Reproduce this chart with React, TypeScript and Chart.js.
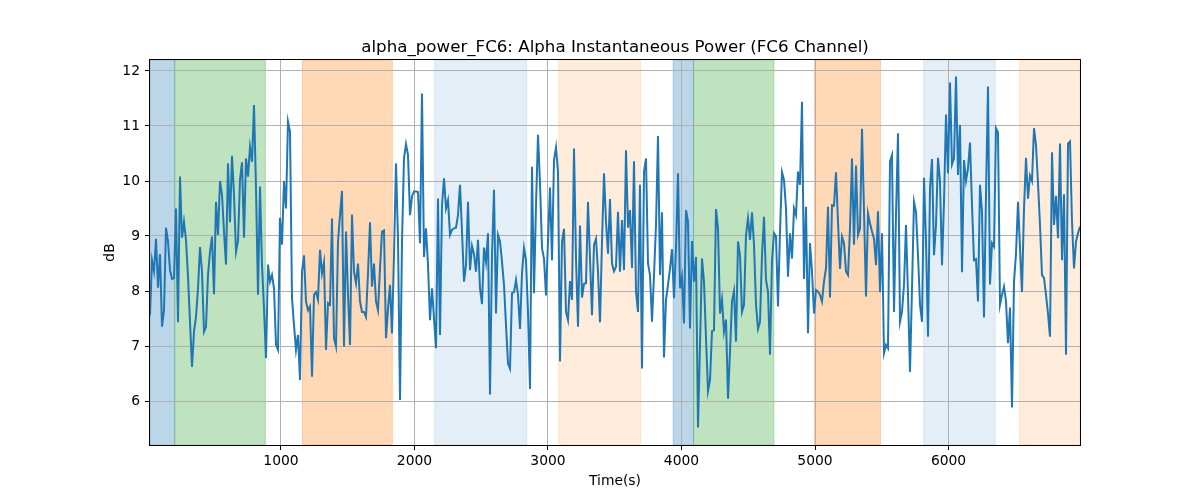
import React, { useEffect, useRef } from "react";
import { Chart, registerables } from "chart.js";

Chart.register(...registerables);

const TITLE = "alpha_power_FC6: Alpha Instantaneous Power (FC6 Channel)";
const X_LABEL = "Time(s)";
const Y_LABEL = "dB";

const TIME_START = 19;
const TIME_STEP = 14.98;

const values: number[] = [
  // 0 - ~1130 s
  7.56, 8.56, 8.36, 8.95, 8.06, 8.67, 7.35, 7.65, 9.15, 8.9,
  8.38, 8.22, 8.24, 9.5, 7.43, 10.08, 8.97, 9.26, 8.93, 8.26,
  7.44, 6.62, 7.26, 7.53, 8.05, 8.8, 8.35, 7.26, 7.35, 8.29,
  8.71, 8.99, 7.94, 9.62, 9.02, 10.0, 9.75, 9.08, 8.48, 10.32,
  9.25, 10.46, 9.75, 8.71, 8.9, 10.02, 10.34, 8.97, 10.41, 10.08,
  10.62, 10.35, 11.38, 9.87, 7.93, 9.9, 8.47, 7.68, 6.78, 8.48,
  8.17, 8.29, 8.05, 7.02, 6.93, 9.33, 8.84, 10.0, 9.5, 11.08,
  10.9, 7.87, 7.38, 6.93, 7.2, 6.38,
  // ~1140 - 2350 s
  8.35, 8.65, 7.81, 7.65, 7.72, 6.44, 7.93, 7.98, 7.84, 8.75,
  8.32, 8.52, 6.93, 7.78, 7.75, 9.32, 7.14, 6.99, 8.9, 9.38,
  9.82, 6.99, 9.08, 7.93, 7.02, 9.39, 8.35, 8.14, 8.5, 7.81,
  7.62, 7.62, 7.53, 8.32, 9.25, 8.08, 8.5, 7.81, 7.65, 8.41,
  9.08, 9.1, 7.14, 7.68, 8.11, 7.23, 8.65, 10.32, 8.96, 6.02,
  8.9, 10.41, 10.67, 10.47, 9.38, 9.72, 9.81, 9.81, 9.8, 8.87,
  11.59, 8.62, 9.14, 8.47, 7.47, 8.05, 7.5, 6.96, 9.68, 7.2,
  9.56, 10.05, 9.5, 9.65, 9.02, 9.11, 9.14, 9.15, 9.38, 9.93,
  9.08, 8.17,
  // ~2370 - 3460 s
  8.47, 9.62, 8.38, 8.82, 8.67, 8.35, 8.93, 8.05, 7.76, 8.79,
  8.53, 9.05, 6.12, 8.65, 9.84, 7.59, 9.02, 8.9, 8.53, 8.11,
  7.38, 6.68, 6.59, 7.96, 7.98, 8.2, 7.93, 7.31, 8.32, 8.78,
  8.56, 7.62, 6.22, 10.26, 7.96, 9.56, 10.84, 9.96, 8.78, 8.59,
  7.92, 8.9, 9.88, 8.56, 10.38, 10.61, 10.17, 6.72, 8.9, 9.13,
  7.62, 7.47, 8.18, 7.84, 10.59, 8.59, 7.35, 9.19, 7.88, 8.13,
  8.14, 9.62, 8.59, 7.56, 8.84, 8.95, 8.35, 7.43, 8.9, 10.14,
  9.26, 8.68, 9.67,
  // ~3470 - 4690 s
  8.5, 8.36, 8.44, 9.44, 8.35, 9.29, 8.38, 10.56, 9.15, 9.47,
  8.42, 10.36, 7.99, 7.62, 9.93, 6.59, 10.17, 10.41, 8.5, 8.29,
  7.44, 8.29, 9.2, 10.82, 8.29, 9.43, 6.79, 7.84, 8.11, 8.41,
  8.76, 7.87, 8.78, 10.14, 8.05, 8.26, 7.41, 9.47, 9.26, 7.32,
  8.91, 8.17, 8.62, 5.52, 7.02, 8.59, 8.17, 7.14, 6.18, 6.38,
  7.27, 7.29, 9.49, 9.14, 7.59, 7.85, 7.26, 7.48, 6.04, 6.9,
  7.81, 8.0, 7.08, 8.9, 8.65, 7.62, 7.75, 9.02, 9.32, 8.93,
  9.43, 8.84, 7.75, 7.31, 7.44, 8.65, 9.35, 8.2, 7.99, 6.84,
  8.55, 9.05,
  // ~4700 - 5840 s
  8.99, 7.72, 9.08, 10.16, 10.02, 9.5, 8.26, 9.05, 8.59, 9.5,
  9.38, 10.17, 9.93, 11.44, 8.22, 9.53, 7.23, 8.87, 8.35, 7.59,
  8.02, 7.99, 7.93, 7.81, 8.17, 8.41, 9.53, 7.88, 9.56, 9.55,
  10.16, 9.26, 8.4, 8.99, 8.87, 8.35, 8.29, 9.14, 10.41, 8.84,
  10.28, 9.02, 9.14, 10.95, 9.44, 7.9, 9.41, 9.23, 9.08, 8.95,
  8.47, 9.45, 7.98, 9.05, 6.87, 7.02, 6.96, 10.35, 10.47, 7.62,
  9.38, 10.87, 7.44, 7.62, 8.11, 9.2, 7.93, 6.53, 8.05, 9.62,
  9.44, 8.65, 7.75, 7.44, 10.06, 8.9, 7.17,
  // ~5860 - 6985 s
  9.87, 10.4, 8.65, 9.2, 10.42, 9.99, 8.47, 9.62, 11.21, 10.14,
  11.79, 10.3, 10.41, 11.9, 10.11, 11.02, 8.34, 10.38, 10.0, 10.23,
  10.7, 9.56, 8.56, 8.58, 7.81, 9.93, 9.44, 7.52, 9.75, 11.72,
  8.12, 8.87, 8.81, 10.96, 10.88, 7.75, 7.93, 8.08, 7.81, 7.05,
  7.7, 5.88, 8.17, 8.68, 9.62, 8.78, 7.98, 9.5, 10.42, 9.68,
  10.1, 10.0, 10.96, 10.65, 9.96, 9.2, 8.29, 8.24, 7.93, 7.59,
  7.17, 10.52, 9.2, 9.73, 8.96, 10.68, 8.56, 9.76, 6.84, 10.68,
  10.72, 9.26, 8.41, 8.9, 9.05, 9.17,
];

const times: number[] = values.map((_, i) => TIME_START + i * TIME_STEP);

const spanStarts = [19, 204, 1160, 2151, 3080, 3938, 4090, 4996, 5814, 6530];
const spanEnds = [204, 883, 1834, 2840, 3694, 4090, 4692, 5490, 6350, 6985];
const spanColors = [
  "rgba(31,119,180,0.3)",
  "rgba(44,160,44,0.3)",
  "rgba(255,127,14,0.3)",
  "rgba(31,119,180,0.12)",
  "rgba(255,127,14,0.15)",
  "rgba(31,119,180,0.3)",
  "rgba(44,160,44,0.3)",
  "rgba(255,127,14,0.3)",
  "rgba(31,119,180,0.12)",
  "rgba(255,127,14,0.15)",
];

const xTicks = [1000, 2000, 3000, 4000, 5000, 6000];
const yTicks = [6, 7, 8, 9, 10, 11, 12];
const Y_MIN = 5.2;
const Y_MAX = 12.2;

const FONT = "'DejaVu Sans', sans-serif";

export default function App() {
  const ref = useRef<HTMLCanvasElement | null>(null);

  useEffect(() => {
    document.body.style.margin = "0";
    const canvas = ref.current;
    if (!canvas) return;

    const spansPlugin = {
      id: "spans",
      beforeDraw(chart: any) {
        const { ctx, chartArea } = chart;
        const xs = chart.scales.x;
        ctx.save();
        ctx.beginPath();
        ctx.rect(chartArea.left, chartArea.top, chartArea.right - chartArea.left, chartArea.bottom - chartArea.top);
        ctx.clip();
        for (let i = 0; i < spanStarts.length; i++) {
          const a = xs.getPixelForValue(spanStarts[i]);
          const b = xs.getPixelForValue(spanEnds[i]);
          ctx.fillStyle = spanColors[i];
          ctx.fillRect(a, chartArea.top, b - a, chartArea.bottom - chartArea.top);
          ctx.strokeStyle = spanColors[i];
          ctx.lineWidth = 1;
          ctx.strokeRect(a, chartArea.top, b - a, chartArea.bottom - chartArea.top);
        }
        ctx.restore();
      },
    };

    const decorPlugin = {
      id: "decor",
      afterDraw(chart: any) {
        const { ctx, chartArea } = chart;
        ctx.save();
        ctx.strokeStyle = "#000";
        ctx.lineWidth = 1;
        ctx.strokeRect(
          Math.round(chartArea.left) - 0.5,
          Math.round(chartArea.top) - 0.5,
          Math.round(chartArea.right - chartArea.left) + 1,
          Math.round(chartArea.bottom - chartArea.top) + 1
        );
        ctx.fillStyle = "#000";
        const cx = (chartArea.left + chartArea.right) / 2;
        ctx.font = `16.67px ${FONT}`;
        ctx.textAlign = "center";
        ctx.textBaseline = "alphabetic";
        ctx.fillText(TITLE, cx, chartArea.top - 8.5);
        ctx.font = `13.89px ${FONT}`;
        ctx.textBaseline = "top";
        ctx.fillText(X_LABEL, cx, 474);
        ctx.translate(110, (chartArea.top + chartArea.bottom) / 2);
        ctx.rotate(-Math.PI / 2);
        ctx.textBaseline = "middle";
        ctx.fillText(Y_LABEL, 0, 0);
        ctx.restore();
      },
    };

    const chart = new Chart(canvas, {
      type: "line",
      data: {
        datasets: [
          {
            data: times.map((t, i) => ({ x: t, y: values[i] })),
            borderColor: "#1f77b4",
            borderWidth: 2,
            pointRadius: 0,
            tension: 0,
            fill: false,
          },
        ],
      },
      options: {
        responsive: false,
        animation: false,
        devicePixelRatio: 1,
        layout: { padding: { left: 0, right: 120, top: 60, bottom: 0 } },
        plugins: {
          legend: { display: false },
          tooltip: { enabled: false },
          title: { display: false },
        },
        scales: {
          x: {
            type: "linear",
            min: times[0],
            max: times[times.length - 1],
            afterFit: (s: any) => {
              s.height = 55;
            },
            afterBuildTicks: (s: any) => {
              s.ticks = xTicks.map((v) => ({ value: v }));
            },
            ticks: {
              includeBounds: false,
              autoSkip: false,
              maxRotation: 0,
              padding: 3,
              color: "#000",
              font: { family: FONT, size: 13.89 },
              callback: (v: any) => String(v),
            },
            grid: {
              color: "#b0b0b0",
              lineWidth: 1,
              tickColor: "#000",
              tickLength: 5,
              drawTicks: true,
            },
            border: { display: false },
          },
          y: {
            type: "linear",
            min: Y_MIN,
            max: Y_MAX,
            afterFit: (s: any) => {
              s.width = 150;
            },
            afterBuildTicks: (s: any) => {
              s.ticks = yTicks.map((v) => ({ value: v }));
            },
            ticks: {
              includeBounds: false,
              autoSkip: false,
              padding: 5,
              color: "#000",
              font: { family: FONT, size: 13.89 },
              callback: (v: any) => String(v),
            },
            grid: {
              color: "#b0b0b0",
              lineWidth: 1,
              tickColor: "#000",
              tickLength: 5,
              drawTicks: true,
            },
            border: { display: false },
          },
        },
      },
      plugins: [spansPlugin, decorPlugin],
    });

    return () => {
      chart.destroy();
    };
  }, []);

  return (
    <div style={{ position: "absolute", left: 0, top: 0, width: 1200, height: 500, background: "#fff" }}>
      <canvas ref={ref} width={1200} height={500} style={{ display: "block" }} />
    </div>
  );
}
